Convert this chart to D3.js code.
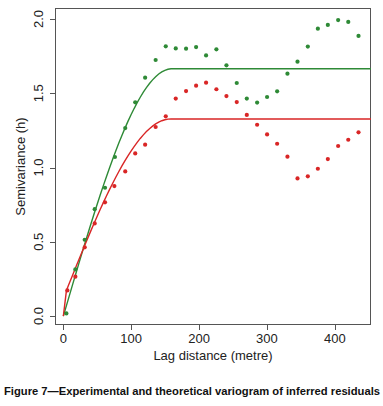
<!DOCTYPE html>
<html>
<head>
<meta charset="utf-8">
<script src="https://cdn.jsdelivr.net/npm/d3@7"></script>
<style>
  body { margin: 0; background: #fff; }
  svg { display: block; }
</style>
</head>
<body>
<div id="chart"></div>
<script>
// experimental variogram: lag distances (metre) and semivariances
var lags = [4.5, 17.7, 31.5, 46.2, 61.4, 76, 91.2, 105.9, 120.5, 136, 150.9, 165.6,
            180.8, 195.6, 210.3, 225.5, 240.3, 255.5, 270.3, 285.5, 300.2, 315,
            330.2, 345, 360.2, 375, 389.7, 404.9, 419.8, 434.9];
var greenGamma = [0.018, 0.314, 0.514, 0.72, 0.864, 1.071, 1.266, 1.439, 1.605, 1.724, 1.816, 1.802,
                  1.80, 1.811, 1.755, 1.796, 1.688, 1.569, 1.464, 1.437, 1.475, 1.513,
                  1.632, 1.713, 1.814, 1.935, 1.96, 1.993, 1.98, 1.886];
var redLags = [5.9, 17.7, 31.5, 46.2, 61.4, 75.2, 91.2, 105.9, 120.5, 136, 150.9, 165.6,
               180.8, 195.6, 210.3, 225.5, 240.3, 255.5, 270.3, 285.5, 300.2, 315,
               330.2, 345, 360.2, 375, 389.7, 404.9, 419.8, 434.9];
var redGamma = [0.173, 0.265, 0.463, 0.624, 0.766, 0.875, 0.974, 1.095, 1.154, 1.273, 1.345, 1.464,
                1.515, 1.551, 1.571, 1.527, 1.481, 1.441, 1.354, 1.288, 1.223, 1.16,
                1.073, 0.927, 0.941, 0.992, 1.057, 1.145, 1.187, 1.237];

// fitted spherical models (green, red)
var modelNugget = [0, 0.12];
var modelSill   = [1.665, 1.327];
var modelRange  = [160, 158];

var xTicks = [0, 100, 200, 300, 400];
var yTicks = [0, 0.5, 1, 1.5, 2];

var colors = ["#2e8a36", "#d92626"];

var W = 383, H = 406,
    pL = 55, pR = 371, pT = 8, pB = 325;

var x = d3.scaleLinear().domain([-12.3, 453.3]).range([pL, pR]),
    y = d3.scaleLinear().domain([-0.06, 2.074]).range([pB, pT]);

var svg = d3.select("#chart").append("svg")
    .attr("width", W)
    .attr("height", H)
    .style("font-family", "'Liberation Sans', Arial, sans-serif");

/* plot box */
svg.append("rect")
  .attr("x", pL + 0.5).attr("y", pT + 0.5)
  .attr("width", pR - pL - 1).attr("height", pB - pT - 1)
  .style("fill", "none")
  .style("stroke", "#555");

/* x axis */
svg.selectAll(".xtick")
  .data(xTicks)
  .enter().append("line")
  .attr("class", "xtick")
  .attr("x1", function(d){ return Math.round(x(d)) + 0.5; })
  .attr("x2", function(d){ return Math.round(x(d)) + 0.5; })
  .attr("y1", pB)
  .attr("y2", pB + 5)
  .style("stroke", "#555");

svg.selectAll(".xlabel")
  .data(xTicks)
  .enter().append("text")
  .attr("class", "xlabel")
  .attr("x", x)
  .attr("y", 342.5)
  .attr("text-anchor", "middle")
  .style("font-size", "13px")
  .style("fill", "#222")
  .text(function(d){ return d; });

svg.append("text")
  .attr("x", (pL + pR) / 2)
  .attr("y", 360)
  .attr("text-anchor", "middle")
  .style("font-size", "13px")
  .style("fill", "#222")
  .text("Lag distance (metre)");

/* y axis */
svg.selectAll(".ytick")
  .data(yTicks)
  .enter().append("line")
  .attr("class", "ytick")
  .attr("x1", pL - 5)
  .attr("x2", pL)
  .attr("y1", function(d){ return Math.round(y(d)) + 0.5; })
  .attr("y2", function(d){ return Math.round(y(d)) + 0.5; })
  .style("stroke", "#555");

svg.selectAll(".ylabel")
  .data(yTicks)
  .enter().append("text")
  .attr("class", "ylabel")
  .attr("transform", function(d){ return "translate(43," + y(d) + ") rotate(-90)"; })
  .attr("text-anchor", "middle")
  .style("font-size", "13px")
  .style("fill", "#222")
  .text(function(d){ return d3.format(".1f")(d); });

svg.append("text")
  .attr("transform", "translate(24.5," + (pT + pB) / 2 + ") rotate(-90)")
  .attr("text-anchor", "middle")
  .style("font-size", "13px")
  .style("fill", "#222")
  .text("Semivariance (h)");

/* model lines */
var dists = d3.range(0, 453.3, 453.3 / 100).concat([453.3]);
function spherical(i) {
  return dists.map(function(h) {
    var a = modelRange[i], g;
    if (h === 0) g = 0;
    else if (h >= a) g = modelSill[i];
    else g = modelNugget[i] + (modelSill[i] - modelNugget[i]) * (1.5 * h / a - 0.5 * Math.pow(h / a, 3));
    return [h, g];
  });
}
var line = d3.line()
  .x(function(d){ return x(d[0]); })
  .y(function(d){ return y(d[1]); });

[0, 1].forEach(function(i) {
  svg.append("path")
    .datum(spherical(i))
    .attr("d", line)
    .style("fill", "none")
    .style("stroke", colors[i])
    .style("stroke-width", 1.4);
});

/* experimental points */
svg.selectAll(".gpt")
  .data(d3.zip(lags, greenGamma))
  .enter().append("circle")
  .attr("class", "gpt")
  .attr("cx", function(d){ return x(d[0]); })
  .attr("cy", function(d){ return y(d[1]); })
  .attr("r", 2.1)
  .style("fill", colors[0]);

svg.selectAll(".rpt")
  .data(d3.zip(redLags, redGamma))
  .enter().append("circle")
  .attr("class", "rpt")
  .attr("cx", function(d){ return x(d[0]); })
  .attr("cy", function(d){ return y(d[1]); })
  .attr("r", 2.1)
  .style("fill", colors[1]);

/* caption */
svg.append("text")
  .attr("x", 4)
  .attr("y", 395)
  .attr("textLength", 376)
  .attr("lengthAdjust", "spacingAndGlyphs")
  .style("font-size", "11px")
  .style("font-weight", "bold")
  .style("fill", "#111")
  .text("Figure 7\u2014Experimental and theoretical variogram of inferred residuals");
</script>
</body>
</html>
